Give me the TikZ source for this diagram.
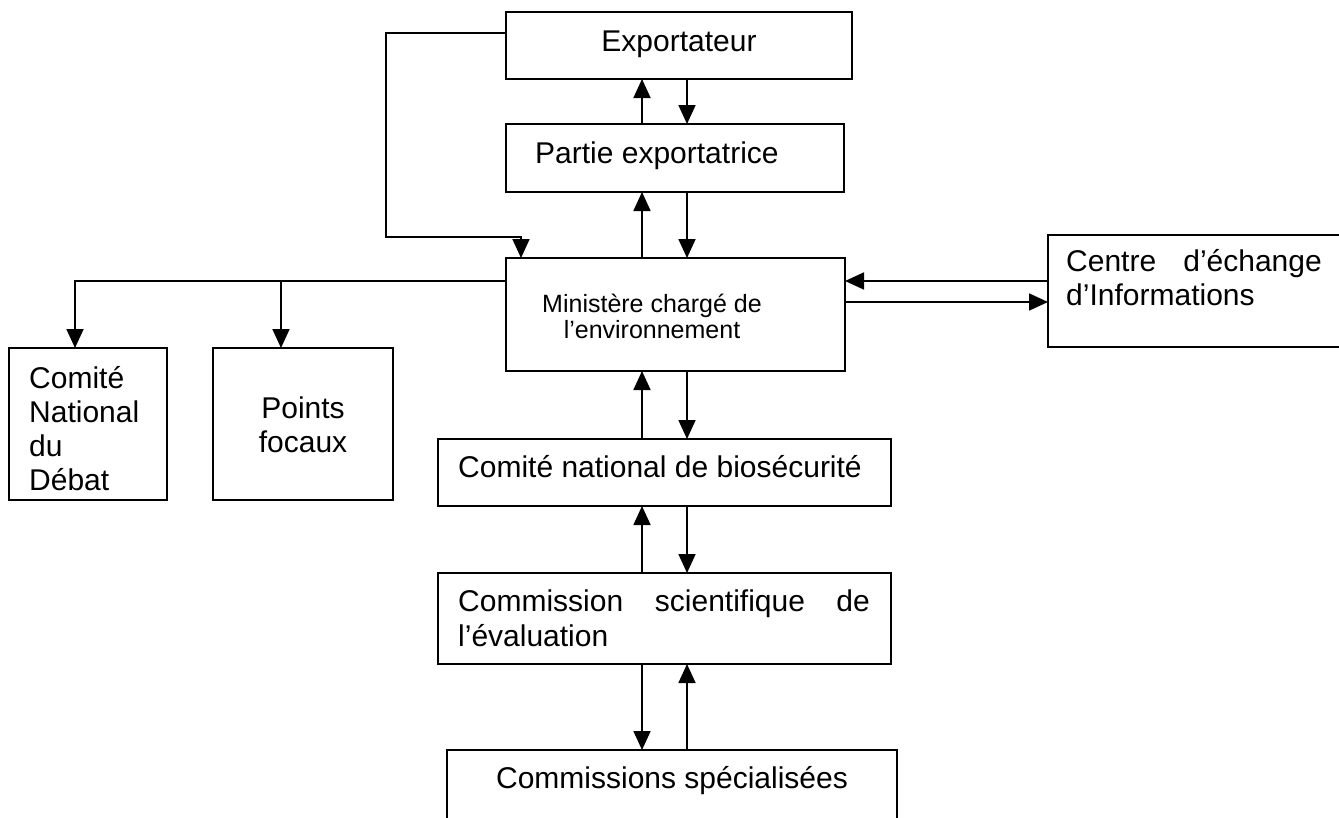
\documentclass[tikz,border=0pt]{standalone}
\usepackage{fontspec}
\setmainfont{Liberation Sans}
\usetikzlibrary{arrows.meta,calc}
\begin{document}
\begin{tikzpicture}[x=1pt,y=-1pt,
  box/.style={draw, line width=1.8pt, anchor=north west, inner sep=0pt, outer sep=0pt},
  txt/.style={inner sep=0pt, font=\fontsize{30}{34}\selectfont},
  small/.style={inner sep=0pt, font=\fontsize{25}{29}\selectfont},
  arr/.style={line width=1.8pt, -{Triangle[width=17pt,length=19pt]}}]
\clip (0,0) rectangle (1339,817);
\fill[white] (0,0) rectangle (1339,817);
% boxes
\node[box, minimum width=346pt, minimum height=67pt] (exp) at (506,12) {};
\node[box, minimum width=338pt, minimum height=68pt] (part) at (506,124) {};
\node[box, minimum width=339pt, minimum height=113pt] (min) at (506,258) {};
\node[box, minimum width=300pt, minimum height=112pt] (cen) at (1048,235) {};
\node[box, minimum width=158pt, minimum height=152pt] (cnd) at (9,348) {};
\node[box, minimum width=180pt, minimum height=152pt] (pf) at (213,348) {};
\node[box, minimum width=453pt, minimum height=67pt] (bio) at (438,439) {};
\node[box, minimum width=453pt, minimum height=91pt] (sci) at (438,573) {};
\node[box, minimum width=450pt, minimum height=90pt] (spec) at (447,750) {};
% texts
\node[txt, anchor=base] (t-exp) at (679,51) {Exportateur};
\node[txt, anchor=base west] (t-part) at (535,163) {Partie exportatrice};
\node[small, anchor=base] (t-min1) at (652,312) {Ministère chargé de};
\node[small, anchor=base] (t-min2) at (652,338) {l’environnement};
\node[txt, anchor=base west] (t-cen1a) at (1066,271) {Centre};
\node[txt, anchor=base east] (t-cen1b) at (1322,271) {d’échange};
\node[txt, anchor=base west] (t-cen2) at (1066,305) {d’Informations};
\node[txt, anchor=base west] (t-cnd1) at (29,388) {Comité};
\node[txt, anchor=base west] (t-cnd2) at (29,422) {National};
\node[txt, anchor=base west] (t-cnd3) at (29,456) {du};
\node[txt, anchor=base west] (t-cnd4) at (29,490) {Débat};
\node[txt, anchor=base] (t-pf1) at (303,418) {Points};
\node[txt, anchor=base] (t-pf2) at (303,452) {focaux};
\node[txt, anchor=base west] (t-bio) at (458,477) {Comité national de biosécurité};
\node[txt, anchor=base west] (t-sci1) at (458,611) {Commission};
\node[txt, anchor=base] (t-sci2) at (730,611) {scientifique};
\node[txt, anchor=base east] (t-sci3) at (870,611) {de};
\node[txt, anchor=base west] (t-sci4) at (458,646) {l’évaluation};
\node[txt, anchor=base] (t-spec) at (672,788) {Commissions spécialisées};
% helper coordinates
\coordinate (xa) at (642,0);
\coordinate (xb) at (687,0);
\coordinate (loopA) at (386,33);
\coordinate (loopB) at (386,237);
\coordinate (loopC) at (521,237);
\coordinate (bA) at (75,281);
\coordinate (bB) at (281,281);
\coordinate (yc1) at (0,281);
\coordinate (yc2) at (0,302);
% vertical pairs
\draw[arr] (part.north -| xa) -- (exp.south -| xa);
\draw[arr] (exp.south -| xb) -- (part.north -| xb);
\draw[arr] (min.north -| xa) -- (part.south -| xa);
\draw[arr] (part.south -| xb) -- (min.north -| xb);
\draw[arr] (bio.north -| xa) -- (min.south -| xa);
\draw[arr] (min.south -| xb) -- (bio.north -| xb);
\draw[arr] (sci.north -| xa) -- (bio.south -| xa);
\draw[arr] (bio.south -| xb) -- (sci.north -| xb);
\draw[arr] (sci.south -| xa) -- (spec.north -| xa);
\draw[arr] (spec.north -| xb) -- (sci.south -| xb);
% loop from Exportateur
\draw[arr] (exp.west |- loopA) -- (loopA) -- (loopB) -- (loopC) -- (min.north -| loopC);
% left branch
\draw[arr] (min.west |- bA) -- (bA) -- (cnd.north -| bA);
\draw[arr] (bB) -- (pf.north -| bB);
% centre
\draw[arr] (cen.west |- yc1) -- (min.east |- yc1);
\draw[arr] (min.east |- yc2) -- (cen.west |- yc2);
\end{tikzpicture}
\end{document}
